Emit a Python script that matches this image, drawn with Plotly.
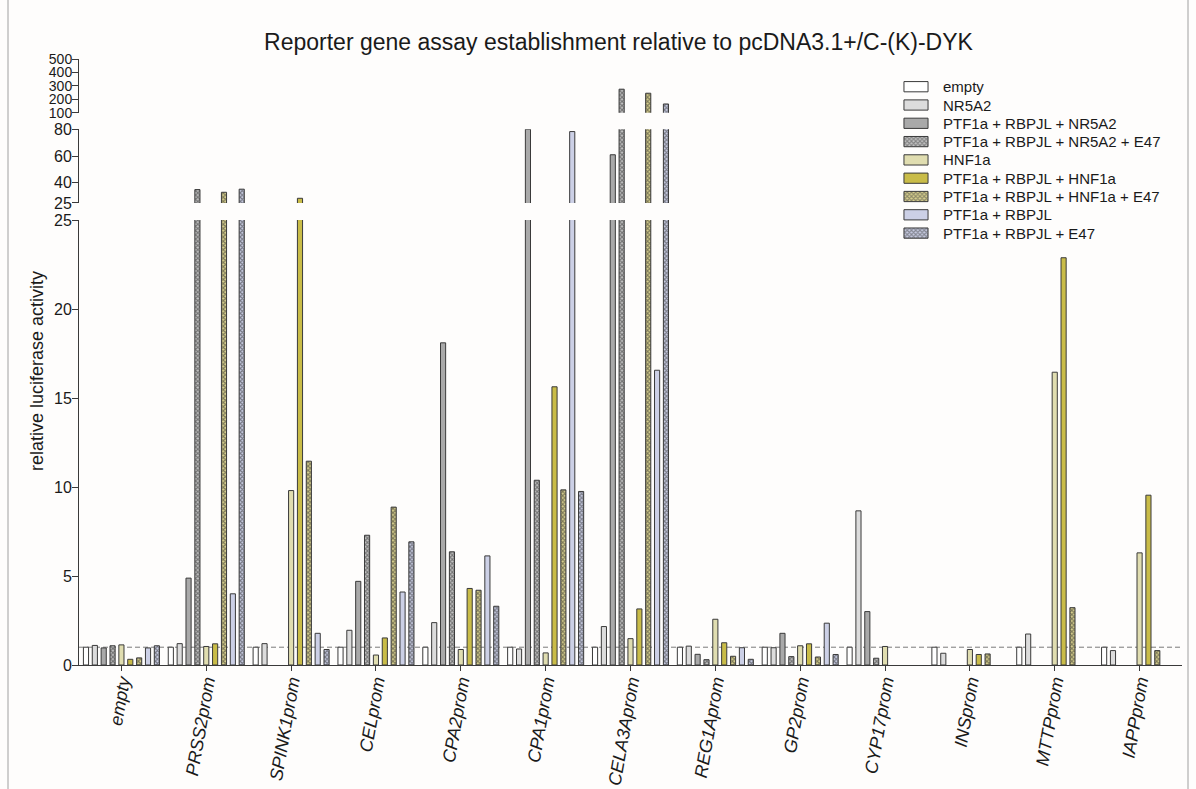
import plotly.graph_objects as go

# ---- data -------------------------------------------------------------
categories = ["empty", "PRSS2prom", "SPINK1prom", "CELprom", "CPA2prom", "CPA1prom",
              "CELA3Aprom", "REG1Aprom", "GP2prom", "CYP17prom", "INSprom",
              "MTTPprom", "IAPPprom"]

series_names = ["empty", "NR5A2", "PTF1a + RBPJL + NR5A2", "PTF1a + RBPJL + NR5A2 + E47",
                "HNF1a", "PTF1a + RBPJL + HNF1a", "PTF1a + RBPJL + HNF1a + E47",
                "PTF1a + RBPJL", "PTF1a + RBPJL + E47"]

v_empty = [1.0, 1.0, 1.0, 1.0, 1.0, 1.0, 1.0, 1.0, 1.0, 1.0, 1.0, 1.0, 1.0]
v_nr5a2 = [1.10, 1.20, 1.20, 1.95, 2.38, 0.90, 2.16, 1.06, 0.97, 8.66, 0.66, 1.74, 0.81]
v_ptf_nr5a2 = [0.96, 4.88, None, 4.70, 18.1, 80.0, 61.0, 0.60, 1.78, 3.0, None, None, None]
v_ptf_nr5a2_e47 = [1.08, 35.0, None, 7.29, 6.36, 10.38, 275.0, 0.30, 0.47, 0.38, None, None, None]
v_hnf1a = [1.13, 1.04, 9.8, 0.56, 0.87, 0.68, 1.48, 2.57, 1.08, 1.04, 0.87, 16.45, 6.3]
v_ptf_hnf1a = [0.32, 1.19, 28.5, 1.52, 4.3, 15.63, 3.15, 1.25, 1.19, None, 0.59, 22.88, 9.54]
v_ptf_hnf1a_e47 = [0.40, 33.0, 11.45, 8.87, 4.2, 9.84, 245.0, 0.49, 0.45, None, 0.62, 3.22, 0.81]
v_ptf_rbpjl = [0.96, 4.0, 1.78, 4.1, 6.13, 78.3, 16.56, 0.97, 2.35, None, None, None, None]
v_ptf_rbpjl_e47 = [1.08, 35.3, 0.87, 6.92, 3.3, 9.75, 165.0, 0.32, 0.59, None, None, None, None]

series_values = [v_empty, v_nr5a2, v_ptf_nr5a2, v_ptf_nr5a2_e47, v_hnf1a,
                 v_ptf_hnf1a, v_ptf_hnf1a_e47, v_ptf_rbpjl, v_ptf_rbpjl_e47]

fill_colors = ["#ffffff", "#dcdcdc", "#a9a9a9", "#c4c4c4", "#e0ddb0",
               "#c9bc48", "#d8d08e", "#ccd0e6", "#c8cce2"]
hatched = [False, False, False, True, False, False, True, False, True]

# y segments of the broken axis: (axis id, range, tick values, domain, tick font size)
segments = [
    ("y", [0, 25], [0, 5, 10, 15, 20, 25], [0.0, 0.7343], 16),
    ("y2", [25, 80], [25, 40, 60, 80], [0.7624, 0.8840], 16),
    ("y3", [100, 500], [100, 200, 300, 400, 500], [0.9114, 1.0], 14),
]

# ---- page geometry (pixels) -----------------------------------------
W, H = 1196, 789
ML, MR, MT, MB = 79, 14, 59, 124
PW, PH = W - ML - MR, H - MT - MB


def px_x(px):
    return (px - ML) / PW


def px_y(py):
    return (H - MB - py) / PH


x_idx = list(range(len(categories)))
outline = "#3a3a3a"
text_col = "#1a1a1a"
font_family = "Liberation Sans, Arial, sans-serif"


def bar_pattern(hat, col):
    if hat:
        return dict(shape="x", fgcolor="#262626", bgcolor=col, size=3, solidity=0.6)
    return dict(shape="")


fig = go.Figure()
for name, vals, col, hat in zip(series_names, series_values, fill_colors, hatched):
    for ax, _, _, _, _ in segments:
        fig.add_trace(go.Bar(
            x=x_idx, y=vals, name=name, xaxis="x", yaxis=ax, showlegend=False,
            marker=dict(color=col, line=dict(color=outline, width=1),
                        pattern=bar_pattern(hat, col)),
        ))

# legend swatches: one horizontal bar per series in a small panel
legend_rows = list(range(len(series_names)))
fig.add_trace(go.Bar(
    x=[1] * len(series_names), y=legend_rows, orientation="h",
    xaxis="x2", yaxis="y4", showlegend=False, hoverinfo="skip", width=0.56,
    marker=dict(color=fill_colors, line=dict(color=outline, width=1),
                pattern=dict(shape=["x" if h else "" for h in hatched],
                             fgcolor="#262626", bgcolor=fill_colors,
                             size=3, solidity=0.6)),
))

axis_common = dict(showline=True, linecolor=outline, linewidth=1, ticks="outside",
                   ticklen=6, tickcolor=outline, showgrid=False, zeroline=False,
                   automargin=False, anchor="x", ticklabelstandoff=-3)

layout_axes = {}
for ax, rng, tv, dom, fs in segments:
    key = "yaxis" if ax == "y" else "yaxis" + ax[1:]
    layout_axes[key] = dict(range=rng, tickvals=tv, domain=dom,
                            tickfont=dict(family=font_family, size=fs, color=text_col),
                            **axis_common)

row_h = 18.3
first_row = 86.7
fig.update_layout(
    **layout_axes,
    xaxis=dict(range=[-0.5, len(categories) - 0.5], domain=[0, 1], anchor="y",
               tickvals=x_idx, ticktext=categories, tickangle=-80,
               showline=True, linecolor=outline, linewidth=1, ticks="outside",
               ticklen=5, tickcolor=outline, showgrid=False, zeroline=False,
               automargin=False, ticklabelstandoff=-7,
               tickfont=dict(family=font_family, size=18, color=text_col, style="italic")),
    xaxis2=dict(domain=[px_x(903), px_x(929)], range=[-0.04, 1.04], anchor="y4",
                visible=False, fixedrange=True),
    yaxis4=dict(domain=[px_y(first_row + row_h * 8.5), px_y(first_row - row_h * 0.5)],
                range=[8.5, -0.5], anchor="x2", visible=False, fixedrange=True),
    barmode="group", bargap=0.06, bargroupgap=0.42,
    width=W, height=H,
    margin=dict(l=ML, r=MR, t=MT, b=MB),
    paper_bgcolor="#fefdfc", plot_bgcolor="#fefdfc",
    font=dict(family=font_family, color=text_col),
    title=dict(text="Reporter gene assay establishment relative to pcDNA3.1+/C-(K)-DYK",
               x=618.5 / W, xanchor="center", y=1 - 42 / H, yanchor="middle",
               font=dict(family=font_family, size=23, color=text_col)),
    showlegend=False,
)

# legend labels
for i, name in enumerate(series_names):
    fig.add_annotation(text=name, xref="paper", yref="paper",
                       x=px_x(940.5), y=px_y(first_row + row_h * i),
                       xanchor="left", yanchor="middle", showarrow=False,
                       font=dict(family=font_family, size=15, color=text_col))

# reference level (activity = 1) across the lower panel
fig.add_shape(type="line", xref="paper", x0=0, x1=1, yref="y", y0=1, y1=1,
              line=dict(color="#7a7a7a", width=1, dash="5px,3px"), layer="below")

# axis title
fig.add_annotation(text="relative luciferase activity", xref="paper", yref="paper",
                   x=px_x(37), y=px_y(371), showarrow=False,
                   textangle=-90, xanchor="center", yanchor="middle",
                   font=dict(family=font_family, size=18, color=text_col))

# thin frame lines at the page edges
for px in (8, 1188):
    fig.add_shape(type="line", xref="paper", yref="paper",
                  x0=px_x(px), x1=px_x(px), y0=px_y(H), y1=px_y(0),
                  line=dict(color="#a0a0a0", width=1))

fig.write_html("out.html")
